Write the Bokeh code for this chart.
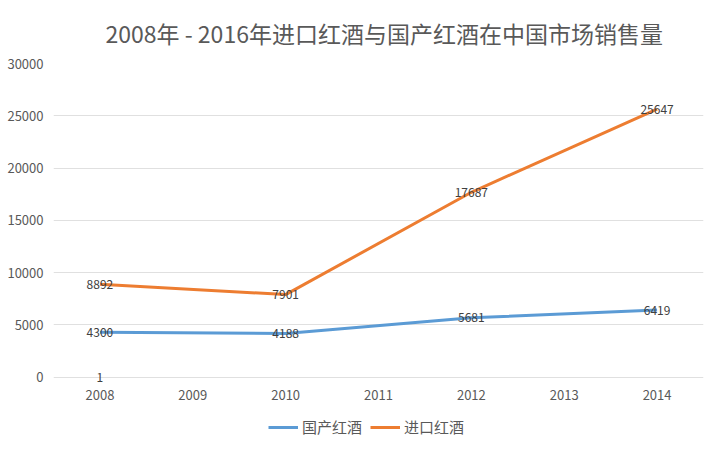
from bokeh.plotting import figure
from bokeh.models import ColumnDataSource, Legend, LegendItem, Range1d, Title, LabelSet
from bokeh.layouts import column
from bokeh.core.properties import value
from bokeh.embed import file_html
from bokeh.resources import INLINE

years = ["2008", "2009", "2010", "2011", "2012", "2013", "2014"]
data_years = ["2008", "2010", "2012", "2014"]
domestic = [4300, 4188, 5681, 6419]
imported = [8892, 7901, 17687, 25647]
stray_year = ["2008"]
stray_value = [1]
y_ticks = [0, 5000, 10000, 15000, 20000, 25000, 30000]
title_text = "2008年 -  2016年进口红酒与国产红酒在中国市场销售量"
name_domestic = "国产红酒"
name_imported = "进口红酒"

FONT = "Noto Sans CJK SC"
GRAY = "#595959"
LABEL = "#404040"
BLUE = "#5B9BD5"
ORANGE = "#ED7D31"

p = figure(width=713, height=410,
           x_range=years, y_range=Range1d(-600, 30000),
           output_backend="svg", toolbar_location=None,
           min_border_left=53, min_border_right=10, min_border_top=63, min_border_bottom=27)
p.outline_line_color = None
p.background_fill_color = "white"
p.border_fill_color = "white"

t = Title(text=title_text, align="left", text_font=FONT, text_font_size="23px",
          text_color=GRAY, text_font_style="normal", standoff=27, offset=52)
p.add_layout(t, "above")

p.xgrid.grid_line_color = None
p.ygrid.grid_line_color = "#e0e0e0"
p.ygrid.grid_line_width = 1
p.yaxis.ticker = y_ticks
p.yaxis.axis_line_color = None
p.yaxis.major_tick_line_color = None
p.yaxis.minor_tick_line_color = None
p.xaxis.axis_line_color = None
p.xaxis.major_tick_line_color = None
p.xaxis.minor_tick_line_color = None
for ax in (p.xaxis[0], p.yaxis[0]):
    ax.major_label_text_font = FONT
    ax.major_label_text_font_size = "13px"
    ax.major_label_text_color = GRAY
p.xaxis.major_label_standoff = 0
p.yaxis.major_label_standoff = 4

src_d = ColumnDataSource(dict(x=data_years, y=domestic, t=[str(v) for v in domestic]))
src_i = ColumnDataSource(dict(x=data_years, y=imported, t=[str(v) for v in imported]))
src_s = ColumnDataSource(dict(x=stray_year, y=stray_value, t=[str(v) for v in stray_value]))

p.line("x", "y", source=src_d, line_color=BLUE, line_width=3)
p.line("x", "y", source=src_i, line_color=ORANGE, line_width=3)

for s in (src_d, src_i, src_s):
    p.add_layout(LabelSet(x="x", y="y", text="t", source=s, text_font=value(FONT),
                          text_font_size=value("12px"), text_color=LABEL,
                          text_align="center", text_baseline="middle"))

# legend row (frame aligned with the main plot's frame by the column layout)
lf = figure(width=713, height=38, x_range=Range1d(0, 1), y_range=Range1d(0, 1),
            output_backend="svg", toolbar_location=None,
            min_border_left=0, min_border_right=0, min_border_top=0, min_border_bottom=0)
lf.axis.visible = False
lf.grid.grid_line_color = None
lf.outline_line_color = None
lf.border_fill_color = "white"
off_d = ColumnDataSource(dict(x=[5, 6], y=[5, 6]))
off_i = ColumnDataSource(dict(x=[5, 6], y=[5, 6]))
l_d = lf.line("x", "y", source=off_d, line_color=BLUE, line_width=3)
l_i = lf.line("x", "y", source=off_i, line_color=ORANGE, line_width=3)
legend = Legend(items=[LegendItem(label=name_domestic, renderers=[l_d]),
                       LegendItem(label=name_imported, renderers=[l_i])],
                orientation="horizontal", location=(215, 11),
                label_text_font=FONT, label_text_font_size="15px", label_text_color=GRAY,
                glyph_width=30, glyph_height=16, label_height=16, spacing=8, label_standoff=4,
                border_line_color=None, background_fill_alpha=0, margin=0, padding=2)
lf.add_layout(legend, "center")

layout = column(p, lf, spacing=0)
open("out.html", "w").write(file_html(layout, INLINE))
